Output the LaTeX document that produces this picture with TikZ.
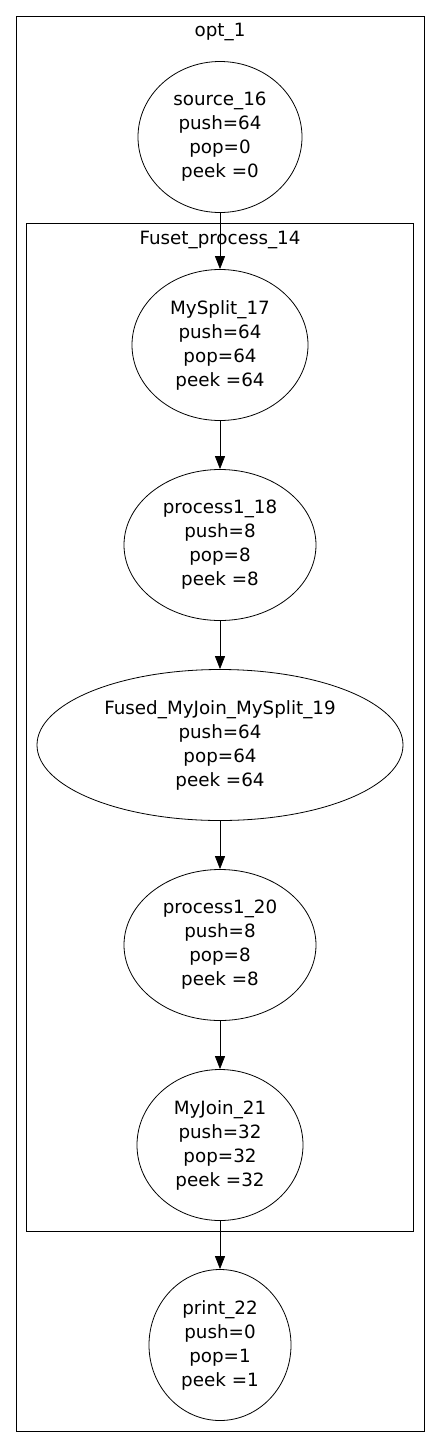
\documentclass[tikz,border=0pt]{standalone}
\usepackage{fontspec}
\setmainfont{DejaVu Sans}
\usetikzlibrary{shapes,arrows.meta,positioning}

\begin{document}
\begin{tikzpicture}[x=1pt,y=-1pt,
		every node/.style={font=\fontsize{18.3}{24}\selectfont},
		filt/.style={ellipse,draw,line width=0.8pt,inner sep=0pt,align=center,minimum height=151pt},
		cluster/.style={draw,line width=0.8pt,inner sep=0pt},
		flow/.style={->,>={Triangle[length=13pt,width=10pt]},line width=0.8pt},auto]
			\useasboundingbox (0,0) rectangle (440,1448);
			\node[cluster,minimum width=408pt,minimum height=1415pt] (opt) at (220,723.5) {};
			\node (optlabel) at (220,32) {opt\_1};
			\node[cluster,minimum width=387pt,minimum height=1008pt] (fuset) at (219.5,727.5) {};
			\node (fuselabel) at (220,240) {Fuset\_process\_14};

			\node[filt,minimum width=164pt] (S16) at (220,137) { source\_16 \\ push=64 \\ pop=0 \\ peek =0 };
			\node[filt,minimum width=176pt] (S17) at (220,345) { MySplit\_17 \\ push=64 \\ pop=64 \\ peek =64 };
			\node[filt,minimum width=192pt] (S18) at (220,545) { process1\_18 \\ push=8 \\ pop=8 \\ peek =8 };
			\node[filt,minimum width=366pt] (S19) at (220,745) { Fused\_MyJoin\_MySplit\_19 \\ push=64 \\ pop=64 \\ peek =64 };
			\node[filt,minimum width=192pt] (S20) at (220,945) { process1\_20 \\ push=8 \\ pop=8 \\ peek =8 };
			\node[filt,minimum width=166pt] (S21) at (220,1145) { MyJoin\_21 \\ push=32 \\ pop=32 \\ peek =32 };
			\node[filt,minimum width=142pt] (S22) at (220,1345) { print\_22 \\ push=0 \\ pop=1 \\ peek =1 };

			\path[flow] (S16) edge (S17)
						 (S17) edge (S18)
						 (S18) edge (S19)
						 (S19) edge (S20)
						 (S20) edge (S21)
						 (S21) edge (S22);
		\end{tikzpicture}
\end{document}
